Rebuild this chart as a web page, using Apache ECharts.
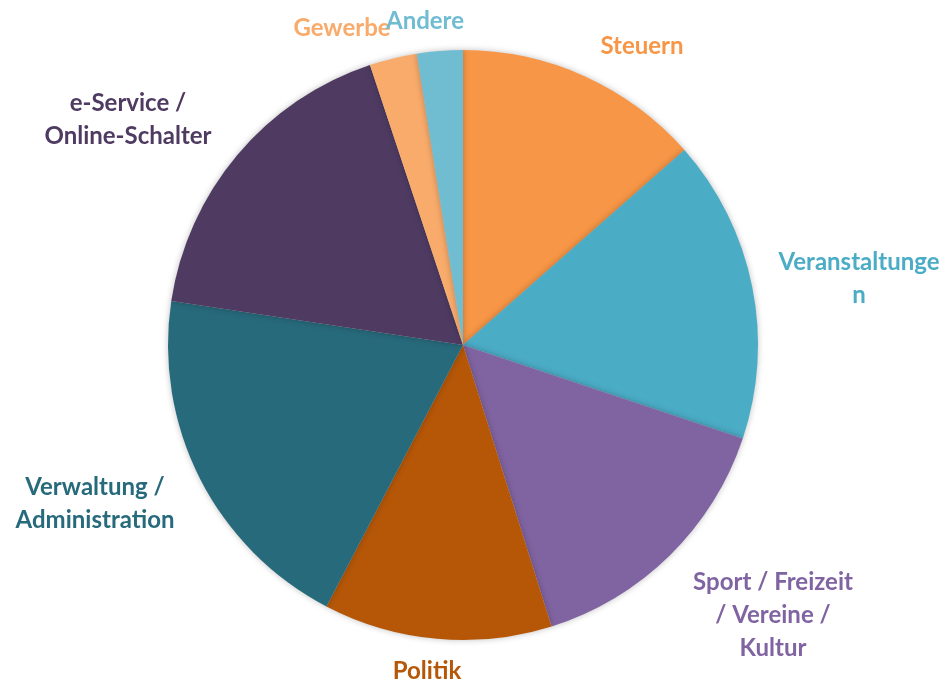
<!DOCTYPE html>
<html>
<head>
<meta charset="utf-8">
<script src="https://cdn.jsdelivr.net/npm/echarts@6/dist/echarts.min.js"></script>
<style>
  html, body { margin: 0; padding: 0; background: #fff; }
  #chart { width: 950px; height: 686px; }
</style>
</head>
<body>
<div id="chart"></div>
<script>
// Kategorien (im Uhrzeigersinn ab 12 Uhr)
const categories = ['Steuern', 'Veranstaltungen', 'Sport / Freizeit / Vereine / Kultur', 'Politik',
  'Verwaltung / Administration', 'e-Service / Online-Schalter', 'Gewerbe', 'Andere']
const labelTexts = ['Steuern', 'Veranstaltunge\nn', 'Sport / Freizeit\n/ Vereine /\nKultur', 'Politik',
  'Verwaltung /\nAdministration', 'e-Service /\nOnline-Schalter', 'Gewerbe', 'Andere']
const values = [13.5, 16.6, 15.0, 12.5, 19.7, 17.5, 2.6, 2.5]
const colors = ['#F79646', '#4BACC6', '#8064A2', '#B65708', '#276A7C', '#4F3B62', '#F8AB6B', '#70BCD1']

// Mittelpunkte der Beschriftungen (wie im Excel-Original platziert)
const labelPos = [[642, 46], [859, 279], [773, 615], [427, 671], [95, 504], [128, 120], [342, 28], [425, 21]]

const chart = echarts.init(document.getElementById('chart'))

const option = {
  backgroundColor: '#ffffff',
  animation: false,
  series: [{
    type: 'pie',
    center: [463, 345],
    radius: 295,
    startAngle: 90,
    clockwise: true,
    itemStyle: {
      borderWidth: 0,
      shadowBlur: 6,
      shadowColor: 'rgba(0, 0, 0, 0.25)'
    },
    label: {
      show: true,
      position: 'outside',
      fontFamily: 'Lato',
      fontWeight: 'bold',
      fontSize: 24,
      lineHeight: 33,
      overflow: 'none',
      formatter: p => labelTexts[p.dataIndex]
    },
    labelLine: { show: false },
    labelLayout: params => ({
      x: labelPos[params.dataIndex][0],
      y: labelPos[params.dataIndex][1],
      align: 'center',
      verticalAlign: 'middle'
    }),
    data: categories.map((name, i) => ({
      name: name,
      value: values[i],
      itemStyle: { color: colors[i] },
      label: { color: colors[i] }
    }))
  }]
}

chart.setOption(option)
</script>
</body>
</html>
